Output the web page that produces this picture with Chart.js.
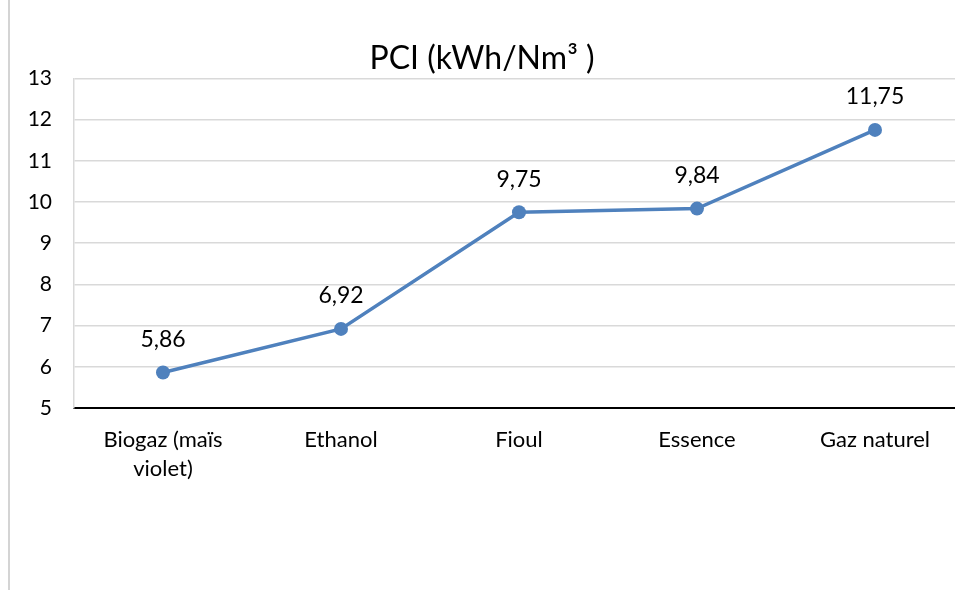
<!DOCTYPE html>
<html>
<head>
<meta charset="utf-8">
<script src="https://cdn.jsdelivr.net/npm/chart.js@4"></script>
<style>
  html, body { margin: 0; padding: 0; overflow: hidden; background: #fff; }
  #wrap { position: absolute; left: 0; top: 0; width: 976px; height: 590px; }
  #frame { position: absolute; left: 8px; top: 0; width: 2px; height: 590px; background: #d4d4d4; }
</style>
</head>
<body>
<div id="wrap">
  <div id="frame"></div>
  <canvas id="chartPci" width="976" height="590"></canvas>
</div>
<script>
const categories = [['Biogaz (maïs', 'violet)'], 'Ethanol', 'Fioul', 'Essence', 'Gaz naturel'];
const pciValues = [5.86, 6.92, 9.75, 9.84, 11.75];
const yTicks = [5, 6, 7, 8, 9, 10, 11, 12, 13];

const FONT = 'Lato, "Open Sans", sans-serif';

// labels drawn above each point, French decimal comma
const valueLabels = {
  id: 'valueLabels',
  afterDatasetsDraw(chart) {
    const ctx = chart.ctx;
    const meta = chart.getDatasetMeta(0);
    ctx.save();
    ctx.font = '23px ' + FONT;
    ctx.fillStyle = '#000';
    ctx.textAlign = 'center';
    ctx.textBaseline = 'middle';
    meta.data.forEach((pt, i) => {
      ctx.fillText(pciValues[i].toFixed(2).replace('.', ','), pt.x, pt.y - 33);
    });
    ctx.restore();
  }
};

new Chart(document.getElementById('chartPci'), {
  type: 'line',
  data: {
    labels: categories,
    datasets: [{
      data: pciValues,
      borderColor: '#4f81bd',
      backgroundColor: '#4f81bd',
      borderWidth: 3.5,
      pointRadius: 7,
      pointHoverRadius: 7,
      pointBorderWidth: 0,
      tension: 0
    }]
  },
  options: {
    responsive: false,
    animation: false,
    layout: { padding: { top: 0, right: 12, bottom: 108, left: 0 } },
    plugins: {
      legend: { display: false },
      tooltip: { enabled: false },
      title: {
        display: true,
        text: 'PCI (kWh/Nm³ )',
        color: '#000',
        font: { family: FONT, size: 32, weight: 'normal', lineHeight: 1.2 },
        padding: { top: 39, bottom: 1 }
      }
    },
    scales: {
      x: {
        offset: true,
        afterFit(scale) { scale.height = 74; },
        grid: { display: false, drawTicks: false },
        border: { display: true, color: '#000', width: 2 },
        ticks: {
          color: '#000',
          padding: 18,
          maxRotation: 0,
          autoSkip: false,
          font: { family: FONT, size: 22, lineHeight: 1.3 }
        }
      },
      y: {
        min: 5,
        max: 13,
        afterFit(scale) { scale.width = 74; },
        afterBuildTicks(scale) { scale.ticks = yTicks.map(v => ({ value: v })); },
        grid: { color: '#d9d9d9', lineWidth: 1.5, drawTicks: false },
        border: { display: true, color: '#d9d9d9', width: 1.5 },
        ticks: {
          color: '#000',
          padding: 22,
          font: { family: FONT, size: 21 }
        }
      }
    }
  },
  plugins: [valueLabels]
});
</script>
</body>
</html>
